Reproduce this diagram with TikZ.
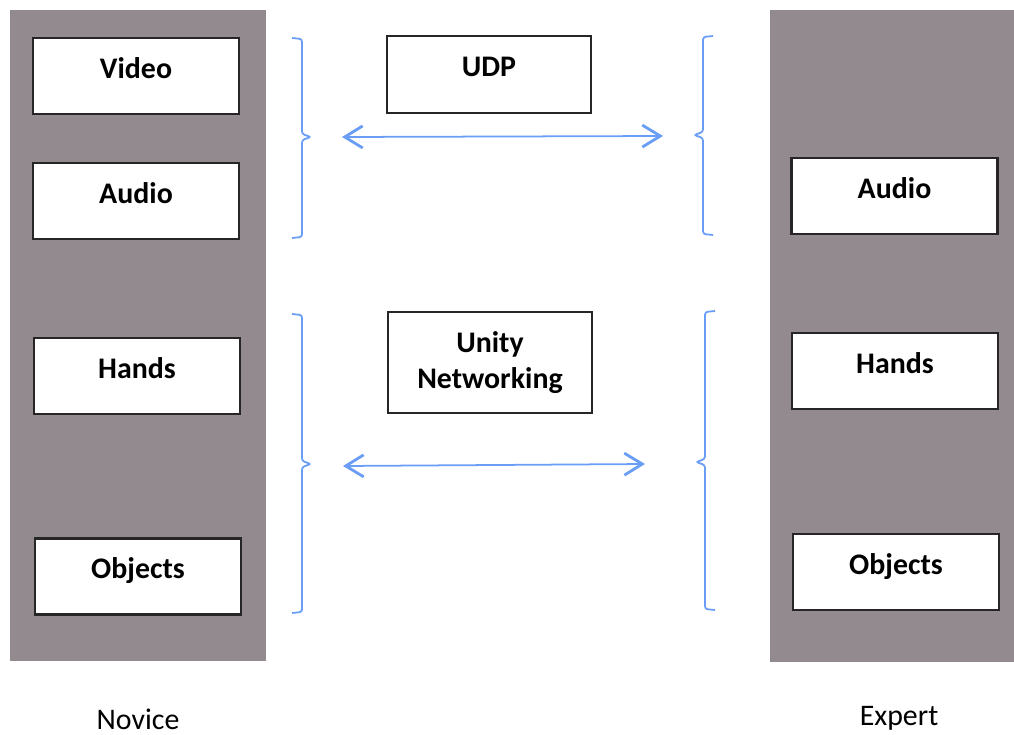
\documentclass[tikz,border=0pt]{standalone}
\usepackage{fontspec}
\setmainfont{Carlito}
\usepackage{tikz}
\usetikzlibrary{arrows.meta, positioning}
\definecolor{panelgray}{HTML}{938A8F}
\definecolor{linkblue}{HTML}{6A9DF5}
\tikzstyle{panel} = [fill=panelgray, draw=none, inner sep=0pt]
\tikzstyle{item} = [draw=black!85, line width=1.5pt, fill=white, minimum width=4.12cm, minimum height=1.52cm, inner sep=0pt, font=\fontsize{17}{21}\selectfont\bfseries, text height=0.42cm, text depth=0.34cm]
\tikzstyle{proto} = [draw=black!85, line width=1.5pt, fill=white, minimum width=4.08cm, inner sep=0pt, align=center, font=\fontsize{17}{21}\selectfont\bfseries]
\tikzstyle{side} = [font=\fontsize{17}{21}\selectfont, anchor=base]
\tikzstyle{link} = [<->, >={Straight Barb[length=3.6mm,width=4.4mm,line width=1.6pt]}, linkblue, line width=1pt]
\tikzstyle{brk} = [linkblue, line width=1pt, rounded corners=1.5pt]
% #1 x, #2 top, #3 bottom, #4 middle, #5 side (1 = tick right, -1 = tick left)
\newcommand{\bracket}[5]{\draw[brk] ({#1-10*(#5)},#2) -- (#1,#2+1) -- (#1,#4-3) -- ({#1+9*(#5)},#4) -- (#1,#4+3) -- (#1,#3-1) -- ({#1-10*(#5)},#3);}

\begin{document}
\begin{tikzpicture}[x=0.02cm, y=-0.02cm]
      \useasboundingbox (0,0) rectangle (1014,734);
      % novice side
      \node[panel, minimum width=5.12cm, minimum height=13.02cm] (novpanel) at (138,335.5) {};
      \node[item] (nvideo) at (136,76) {Video};
      \node[item] (naudio) at (136,201) {Audio};
      \node[item] (nhands) at (137,376) {Hands};
      \node[item] (nobjects) at (138,576.5) {Objects};
      \node[side] (novice) at (138,729) {Novice};
      % expert side
      \node[panel, minimum width=4.88cm, minimum height=13.04cm] (exppanel) at (892,336) {};
      \node[item] (eaudio) at (894.5,196) {Audio};
      \node[item] (ehands) at (895,371) {Hands};
      \node[item] (eobjects) at (896,572) {Objects};
      \node[side] (expert) at (899,725) {Expert};
      % protocols
      \node[proto, minimum height=1.54cm, text height=0.42cm, text depth=0.34cm] (udp) at (489,74.5) {UDP};
      \node[proto, minimum height=2.02cm] (unet) at (490,362.5) {Unity\\Networking};
      \bracket{302}{38}{238}{137}{1}
      \bracket{703}{36}{235}{135}{-1}
      \bracket{302}{314}{613}{464}{1}
      \bracket{705}{311}{610}{462}{-1}
      \coordinate (udpL) at (342,137);
      \coordinate (udpR) at (663,136);
      \coordinate (unetL) at (343,466);
      \coordinate (unetR) at (645,464);
      \draw[link] (udpL) -- (udpR);
      \draw[link] (unetL) -- (unetR);
\end{tikzpicture}
\end{document}
